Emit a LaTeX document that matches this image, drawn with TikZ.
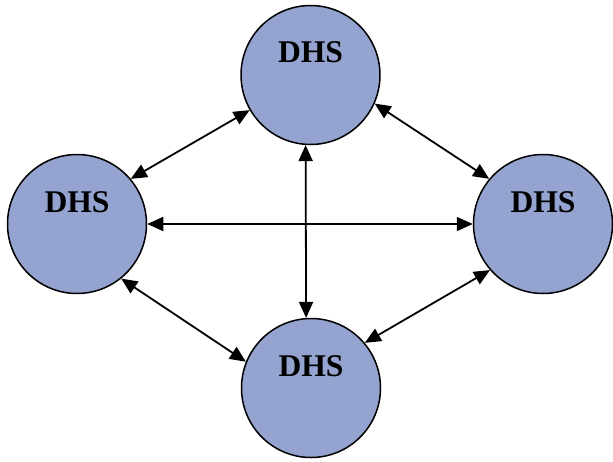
\documentclass[tikz,border=0pt]{standalone}
\usepackage{fontspec}
\setmainfont{Liberation Serif}
\usetikzlibrary{arrows.meta}
\definecolor{dhsfill}{RGB}{148,163,207}
\tikzset{
  dhs/.style={circle, draw=black, line width=1.5pt, fill=dhsfill,
    minimum size=139pt, inner sep=0pt},
  dhslabel/.style={font=\bfseries\fontsize{31.6}{36}\selectfont},
  link/.style={line width=1.8pt, {Triangle[length=16pt,width=14pt]}-{Triangle[length=16pt,width=14pt]}}
}
\begin{document}
\begin{tikzpicture}[x=1pt,y=-1pt]
\useasboundingbox (0,0) rectangle (613,461);
\node[dhs] (top) at (310.5,75) {};
\node[dhs] (left) at (77,224) {};
\node[dhs] (right) at (543,224) {};
\node[dhs] (bottom) at (311,388) {};
\node[dhslabel] at (310.5,52) {DHS};
\node[dhslabel] at (77,202) {DHS};
\node[dhslabel] at (543,202) {DHS};
\node[dhslabel] at (311,366) {DHS};
\draw[link] (left.40) -- (top.210);
\draw[link] (top.336) -- (right.140);
\draw[link] (left.0) -- (right.180);
\draw[link] (top.266) -- (bottom.94);
\draw[link] (left.309) -- (bottom.158);
\draw[link] (bottom.40) -- (right.221);
\end{tikzpicture}
\end{document}
